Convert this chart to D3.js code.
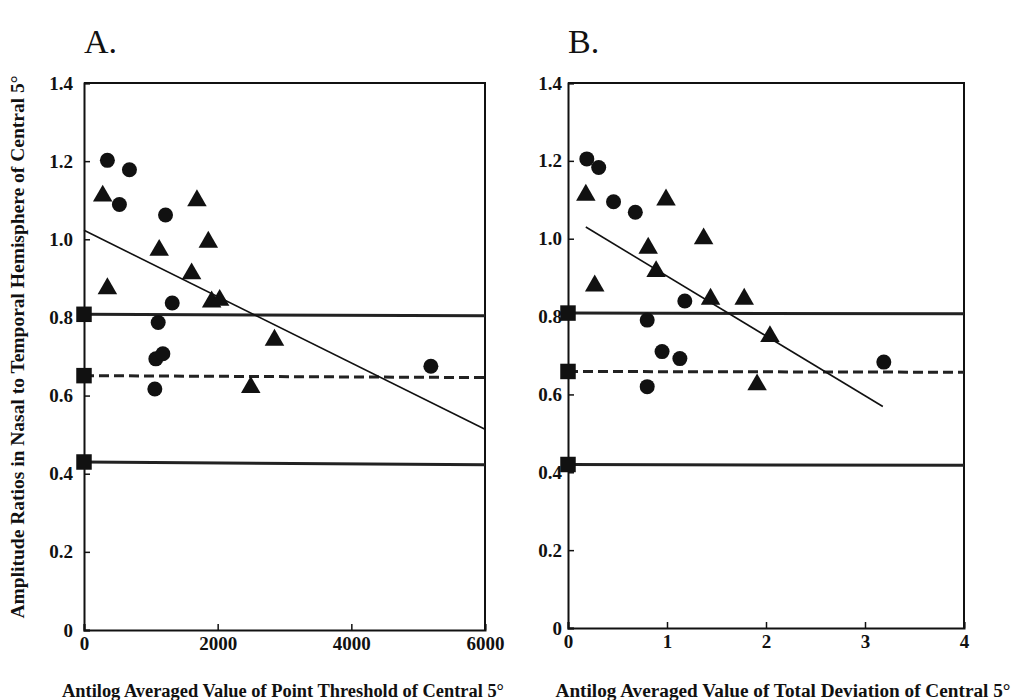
<!DOCTYPE html>
<html>
<head>
<meta charset="utf-8">
<script src="https://cdn.jsdelivr.net/npm/d3@7"></script>
<style>
  body { margin: 0; background: #fff; }
  svg { display: block; font-family: "Liberation Serif", "DejaVu Serif", serif; }
</style>
</head>
<body>
<svg width="1013" height="700"></svg>
<script>
// panel A: x = antilog averaged point threshold
var aCircleX = [350, 680, 530, 1220, 1320, 1110, 1075, 1180, 1060, 5190];
var aCircleY = [1.202, 1.178, 1.089, 1.062, 0.837, 0.787, 0.694, 0.707, 0.617, 0.675];
var aTriX = [280, 350, 1125, 1690, 1860, 1610, 1910, 2030, 2850, 2495];
var aTriY = [1.111, 0.874, 0.972, 1.099, 0.993, 0.912, 0.840, 0.844, 0.742, 0.621];
var aFitX = [0, 6000];
var aFitY = [1.023, 0.514];

// panel B: x = antilog averaged total deviation
var bCircleX = [0.19, 0.31, 0.46, 0.68, 1.18, 0.80, 0.95, 1.13, 0.80, 3.19];
var bCircleY = [1.205, 1.183, 1.095, 1.068, 0.840, 0.791, 0.710, 0.692, 0.620, 0.683];
var bTriX = [0.18, 0.27, 0.81, 0.99, 1.37, 0.89, 1.44, 1.78, 2.04, 1.91];
var bTriY = [1.112, 0.879, 0.976, 1.100, 1.000, 0.916, 0.845, 0.845, 0.749, 0.625];
var bFitX = [0.18, 3.18];
var bFitY = [1.030, 0.569];

// reference levels (start / end value; slight skew in the original print)
var refKinds = ['solid', 'dashed', 'solid'];
var aRefStart = [0.808, 0.651, 0.430];
var aRefEnd = [0.804, 0.646, 0.423];
var bRefStart = [0.809, 0.659, 0.420];
var bRefEnd = [0.807, 0.657, 0.418];

var yTicks = [0, 0.2, 0.4, 0.6, 0.8, 1.0, 1.2, 1.4];
var aXTicks = [0, 2000, 4000, 6000];
var bXTicks = [0, 1, 2, 3, 4];

var svg = d3.select('svg');

function panel(o) {
  var x = d3.scaleLinear().domain(o.xDomain).range(o.xRange);
  var y = d3.scaleLinear().domain([0, 1.4]).range(o.yRange);
  var g = svg.append('g');

  // frame top + right
  g.append('path')
    .attr('d', 'M' + o.xRange[0] + ',' + o.yRange[1] + 'H' + o.xRange[1] + 'V' + o.yRange[0])
    .attr('fill', 'none').attr('stroke', '#111').attr('stroke-width', 2);

  var yAxis = d3.axisLeft(y).tickValues(yTicks).tickSize(-6).tickPadding(o.yPad)
    .tickFormat(function (d) { return d === 0 ? '0' : d3.format('.1f')(d); });
  var ga = g.append('g').attr('transform', 'translate(' + o.xRange[0] + ',0)').call(yAxis);
  var xAxis = d3.axisBottom(x).tickValues(o.xTicks).tickSize(-6).tickPadding(7)
    .tickFormat(d3.format('d'));
  var gb = g.append('g').attr('transform', 'translate(0,' + o.yRange[0] + ')').call(xAxis);
  [ga, gb].forEach(function (s) {
    s.attr('font-size', 19);
    s.select('.domain').attr('stroke', '#111').attr('stroke-width', 2);
    s.selectAll('.tick line').attr('stroke', '#111').attr('stroke-width', 1.5);
    s.selectAll('.tick text').attr('font-family', '"Liberation Serif", serif')
      .attr('font-weight', 'bold').attr('font-size', 19).attr('fill', '#111');
  });

  // reference lines
  o.refStart.forEach(function (v, i) {
    g.append('line')
      .attr('x1', x(o.xDomain[0])).attr('x2', x(o.xDomain[1]))
      .attr('y1', y(v)).attr('y2', y(o.refEnd[i]))
      .attr('stroke', '#222').attr('stroke-width', 3)
      .attr('stroke-dasharray', refKinds[i] === 'dashed' ? '10,5' : null);
    g.append('path')
      .attr('transform', 'translate(' + x(0) + ',' + y(v) + ')')
      .attr('d', d3.symbol(d3.symbolSquare, 240)())
      .attr('fill', '#111');
  });

  // regression line
  g.append('line')
    .attr('x1', x(o.fitX[0])).attr('y1', y(o.fitY[0]))
    .attr('x2', x(o.fitX[1])).attr('y2', y(o.fitY[1]))
    .attr('stroke', '#111').attr('stroke-width', 1.6);

  g.selectAll('circle.pt').data(d3.zip(o.cx, o.cy)).join('circle')
    .attr('class', 'pt')
    .attr('cx', function (d) { return x(d[0]); })
    .attr('cy', function (d) { return y(d[1]); })
    .attr('r', 7.5).attr('fill', '#111');

  g.selectAll('path.tri').data(d3.zip(o.tx, o.ty)).join('path')
    .attr('class', 'tri')
    .attr('transform', function (d) { return 'translate(' + x(d[0]) + ',' + y(d[1]) + ')'; })
    .attr('d', d3.symbol(d3.symbolTriangle, 165)())
    .attr('fill', '#111');

  // panel letter
  g.append('text').attr('x', o.xRange[0]).attr('y', 53)
    .attr('font-size', 34).attr('fill', '#111').text(o.letter);

  // x title
  g.append('text').attr('x', o.titleX).attr('y', 697)
    .attr('text-anchor', 'middle').attr('font-weight', 'bold').attr('font-size', 18)
    .attr('fill', '#111').attr('textLength', o.titleLen).attr('lengthAdjust', 'spacingAndGlyphs')
    .text(o.title);
}

panel({
  letter: 'A.', xDomain: [0, 6000], xRange: [84, 485], yRange: [630, 83], yPad: 11,
  xTicks: aXTicks, cx: aCircleX, cy: aCircleY, tx: aTriX, ty: aTriY,
  fitX: aFitX, fitY: aFitY, refStart: aRefStart, refEnd: aRefEnd,
  title: 'Antilog Averaged Value of Point Threshold of Central 5\u00b0', titleX: 283, titleLen: 442
});
panel({
  letter: 'B.', xDomain: [0, 4], xRange: [568, 964], yRange: [628, 83], yPad: 6,
  xTicks: bXTicks, cx: bCircleX, cy: bCircleY, tx: bTriX, ty: bTriY,
  fitX: bFitX, fitY: bFitY, refStart: bRefStart, refEnd: bRefEnd,
  title: 'Antilog Averaged Value of Total Deviation of Central 5\u00b0', titleX: 783, titleLen: 455
});

// shared y title
svg.append('text')
  .attr('transform', 'translate(24,347) rotate(-90)')
  .attr('text-anchor', 'middle').attr('font-weight', 'bold').attr('font-size', 19)
  .attr('fill', '#111').attr('textLength', 543).attr('lengthAdjust', 'spacingAndGlyphs')
  .text('Amplitude Ratios in Nasal to Temporal Hemisphere of Central 5\u00b0');
</script>
</body>
</html>
